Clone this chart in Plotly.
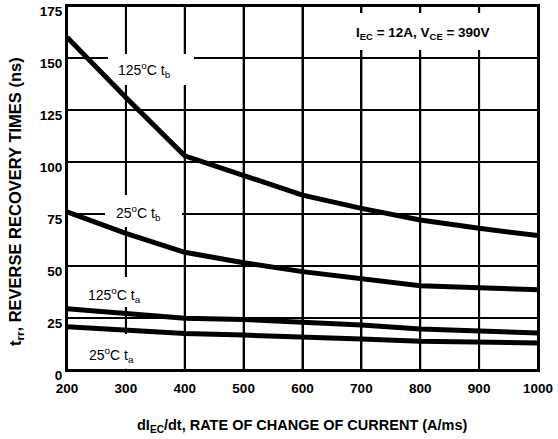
import plotly.graph_objects as go

# dI/dt values (A/us)
x_vals = [200, 300, 400, 500, 600, 700, 800, 900, 1000]

# reverse recovery times (ns)
tb_125 = [160, 131, 103, 93.8, 84.1, 77.7, 72.1, 68.1, 64.6]
tb_25 = [76, 65.7, 56.6, 51.6, 47.3, 43.6, 40.5, 39.5, 38.6]
ta_125 = [29.5, 26.9, 24.9, 24.3, 23.2, 21.6, 19.7, 18.8, 17.8]
ta_25 = [20.8, 19.1, 17.6, 16.8, 16.0, 14.9, 13.8, 13.4, 13.0]

x_ticks = [200, 300, 400, 500, 600, 700, 800, 900, 1000]
y_ticks = [0, 25, 50, 75, 100, 125, 150, 175]

FONT = "Liberation Sans"
X_RANGE = [200, 1000]
Y_RANGE = [0, 175]
GRID = "#000000"

fig = go.Figure()

# grid lines at the tick values (one trace, below the curves)
gx, gy = [], []
for xv in x_ticks:
    gx += [xv, xv, None]
    gy += [Y_RANGE[0], Y_RANGE[1], None]
for yv in y_ticks:
    gx += [X_RANGE[0], X_RANGE[1], None]
    gy += [yv, yv, None]
fig.add_trace(go.Scatter(x=gx, y=gy, mode="lines", line=dict(color=GRID, width=2),
                         showlegend=False, hoverinfo="skip", connectgaps=False))

# white boxes behind labels (break the grid)
boxes = [
    (269.6, 415.7, 137.0, 151.9),
    (264.5, 395.3, 68.8, 84.1),
    (232.0, 358.0, 30.3, 44.7),
    (232.0, 349.0, 0.6, 17.3),
    (680.7, 930.4, 153.8, 171.6),
]
for x0, x1, y0, y1 in boxes:
    fig.add_trace(go.Scatter(x=[x0, x1, x1, x0, x0], y=[y0, y0, y1, y1, y0], mode="lines",
                             fill="toself", fillcolor="white", line=dict(width=0, color="white"),
                             showlegend=False, hoverinfo="skip"))

for series in (tb_125, tb_25, ta_125, ta_25):
    fig.add_trace(go.Scatter(x=x_vals, y=series, mode="lines",
                             line=dict(color="black", width=5),
                             showlegend=False, hoverinfo="skip"))

labels = [
    (331.0, 144.2, "125<sup>o</sup>C t<sub>b</sub>"),
    (321.0, 75.5, "25<sup>o</sup>C t<sub>b</sub>"),
    (280.0, 36.0, "125<sup>o</sup>C t<sub>a</sub>"),
    (276.0, 7.2, "25<sup>o</sup>C t<sub>a</sub>"),
]
for lx, ly, txt in labels:
    fig.add_annotation(x=lx, y=ly, xref="x", yref="y", text=txt, showarrow=False,
                       xanchor="center", yanchor="middle",
                       font=dict(family=FONT, size=14, color="black"))

fig.add_annotation(x=804.7, y=162, xref="x", yref="y",
                   text="<b>I<sub>EC</sub> = 12A, V<sub>CE</sub> = 390V</b>", showarrow=False,
                   xanchor="center", yanchor="middle",
                   font=dict(family=FONT, size=13.5, color="black"))

# axis titles
fig.add_annotation(x=(302 - 67) / 471, y=(370 - 426) / 364, xref="paper", yref="paper",
                   xanchor="center", yanchor="middle",
                   text="<b>dI<sub>EC</sub>/dt, RATE OF CHANGE OF CURRENT (A/ms)</b>", showarrow=False,
                   font=dict(family=FONT, size=14.5, color="black"))
fig.add_annotation(x=(16 - 67) / 471, y=(370 - 202) / 364, xref="paper", yref="paper",
                   xanchor="center", yanchor="middle",
                   text="<b>t<sub>rr</sub>, REVERSE RECOVERY TIMES (ns)</b>", showarrow=False,
                   textangle=-90,
                   font=dict(family=FONT, size=16.5, color="black"))

axis_common = dict(showgrid=True, gridcolor=GRID, gridwidth=2,
                   showline=True, linecolor="#000000", linewidth=2, mirror=True,
                   zeroline=False, ticklabeloverflow="allow",
                   tickfont=dict(family=FONT, size=13.5, color="black"))

fig.update_xaxes(range=X_RANGE, tickvals=x_ticks, ticktext=["<b>%d</b>" % v for v in x_ticks],
                 ticklabelstandoff=5, **axis_common)
fig.update_yaxes(range=Y_RANGE, tickvals=y_ticks, ticktext=["<b>%d</b>" % v for v in y_ticks],
                 ticklabelshift=5, **axis_common)

fig.update_layout(width=558, height=439, margin=dict(l=67, r=20, t=6, b=69),
                  template="none",
                  plot_bgcolor="white", paper_bgcolor="white",
                  font=dict(family=FONT, color="black"))

fig.write_html("out.html", config={"displayModeBar": False},
               post_script="document.body.style.margin='0';document.body.style.padding='0';")
